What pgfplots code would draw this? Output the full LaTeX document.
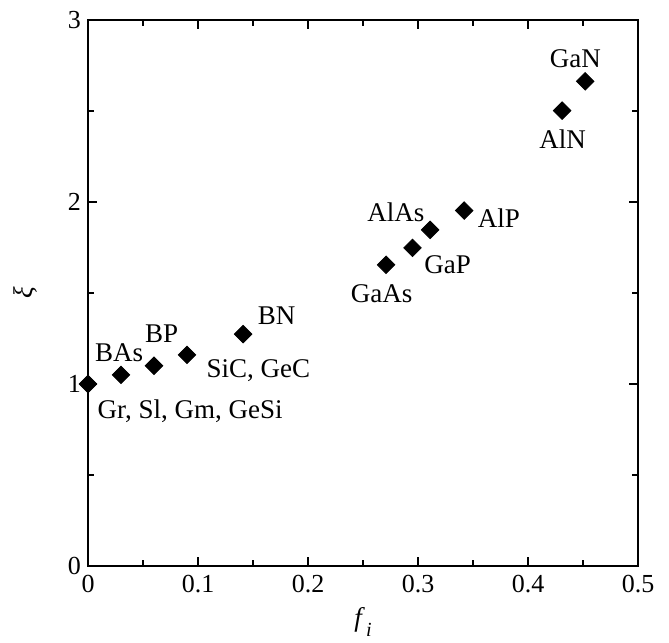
\documentclass[border=0pt]{standalone}
\usepackage{fontspec}
\setmainfont{Liberation Serif}
\usepackage{pgfplots}
\pgfplotsset{compat=1.18}
\begin{document}
\begin{tikzpicture}
\begin{axis}[
  name=ax,
  scale only axis,
  width=275pt, height=273pt,
  xmin=0, xmax=0.5, ymin=0, ymax=3,
  xtick={0,0.1,0.2,0.3,0.4,0.5},
  xticklabels={0,0.1,0.2,0.3,0.4,0.5},
  ytick={0,1,2,3},
  yticklabels={0,1,2,3},
  minor x tick num=1,
  minor y tick num=1,
  tick align=inside,
  major tick length=4.5pt,
  minor tick length=3pt,
  axis line style={line width=1pt},
  tick style={black, line width=0.7pt},
  /pgf/number format/assume math mode=true,
  ticklabel style={font=\fontsize{13}{15}\selectfont},
  xticklabel style={yshift=-1pt},
  yticklabel style={xshift=0pt},
  xlabel={\textit{f}\kern0.5pt\raisebox{-0.35em}{\fontsize{10}{12}\selectfont\textit{i}}},
  xlabel style={font=\fontsize{13.5}{16}\selectfont, at={(axis description cs:0.5,0)}, anchor=center, yshift=-28pt},
  ylabel={\itshape ξ},
  ylabel style={font=\fontsize{13.5}{16}\selectfont, at={(axis description cs:0,0.5)}, anchor=center, yshift=31.5pt},
  clip=false,
]
\addplot[only marks, mark=square*, mark size=3.1pt, mark options={rotate=45, fill=black, draw=black}] coordinates {
  (0,1.0) (0.03,1.05) (0.06,1.10) (0.09,1.16) (0.141,1.274)
  (0.271,1.655) (0.295,1.748) (0.311,1.847) (0.342,1.953)
  (0.431,2.502) (0.452,2.663)
};
\begin{scope}[font=\fontsize{13.5}{16}\selectfont]
\node at (axis cs:0.443,2.788) {GaN};
\node at (axis cs:0.4315,2.343) {AlN};
\node at (axis cs:0.2798,1.946) {AlAs};
\node at (axis cs:0.3735,1.909) {AlP};
\node at (axis cs:0.327,1.653) {GaP};
\node at (axis cs:0.267,1.494) {GaAs};
\node at (axis cs:0.1714,1.378) {BN};
\node at (axis cs:0.067,1.278) {BP};
\node at (axis cs:0.0282,1.170) {BAs};
\node at (axis cs:0.1548,1.071) {SiC, GeC};
\node at (axis cs:0.0929,0.851) {Gr, Sl, Gm, GeSi};
\end{scope}
\end{axis}
\path ([shift={(-44pt,-32.5pt)}]ax.south west) rectangle ([shift={(15.5pt,10pt)}]ax.north east);
\end{tikzpicture}
\end{document}
